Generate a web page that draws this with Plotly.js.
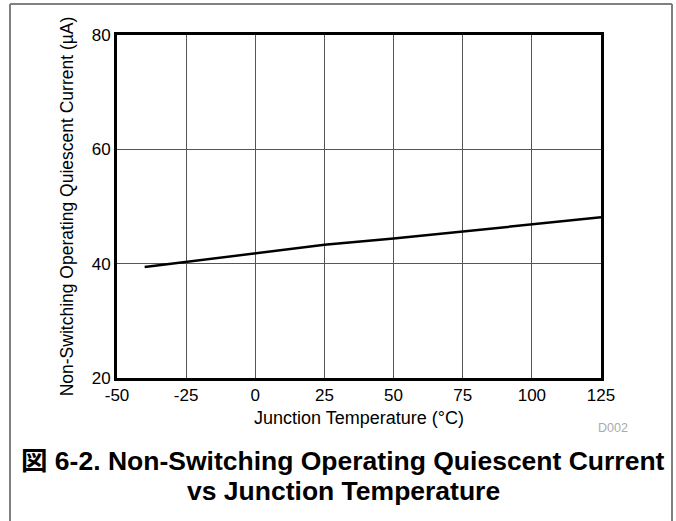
<!DOCTYPE html>
<html>
<head>
<meta charset="utf-8">
<script src="https://cdn.plot.ly/plotly-3.0.1.min.js"></script>
<style>html,body{margin:0;padding:0;background:#fff;}#chart{width:676px;height:521px;}</style>
</head>
<body>
<div id="chart"></div>
<script>
var temperature = [-40, -25, 0, 25, 50, 75, 100, 125];
var quiescentCurrent = [39.4, 40.3, 41.8, 43.3, 44.4, 45.6, 46.8, 48.1];
var xTicks = [-50, -25, 0, 25, 50, 75, 100, 125];
var yTicks = [20, 40, 60, 80];
var xTitle = "Junction Temperature (°C)";
var yTitle = "Non-Switching Operating Quiescent Current (µA)";
var captionLine1 = "図 6-2. Non-Switching Operating Quiescent Current";
var captionLine2 = "vs Junction Temperature";
var docId = "D002";

var L = 117, R = 75, T = 35, B = 143, W = 676, H = 521;
var pw = W - L - R, ph = H - T - B;
function px(x) { return (x - L) / pw; }
function py(y) { return (H - B - y) / ph; }

var font = "Arial, 'Liberation Sans', Helvetica, sans-serif";
var capFont = "Arial, 'Liberation Sans', 'Noto Sans CJK JP', sans-serif";

var trace = {
  x: temperature, y: quiescentCurrent, type: "scatter", mode: "lines",
  line: {color: "#000", width: 2.5}, hoverinfo: "skip"
};

var layout = {
  width: W, height: H,
  margin: {l: L, r: R, t: T, b: B, pad: 0},
  paper_bgcolor: "#fff", plot_bgcolor: "#fff",
  showlegend: false,
  font: {family: font, size: 17, color: "#000"},
  xaxis: {
    range: [-50, 125], tickvals: xTicks, ticktext: xTicks.map(String),
    showgrid: true, gridcolor: "#555", gridwidth: 1,
    zeroline: false, showline: true, linecolor: "#000", linewidth: 3, mirror: true,
    ticks: "", tickfont: {size: 17, family: font},
    title: {text: xTitle, font: {size: 18, family: font}, standoff: 7}
  },
  yaxis: {
    range: [20, 80], tickvals: yTicks, ticktext: yTicks.map(String),
    showgrid: true, gridcolor: "#555", gridwidth: 1,
    zeroline: false, showline: true, linecolor: "#000", linewidth: 3, mirror: true,
    ticks: "", tickfont: {size: 17, family: font},
    title: {text: yTitle, font: {size: 17.5, family: font}, standoff: 14}
  },
  shapes: [
    {type: "line", xref: "paper", yref: "paper", x0: px(10), x1: px(672), y0: py(4), y1: py(4), line: {color: "#808080", width: 2}},
    {type: "line", xref: "paper", yref: "paper", x0: px(10), x1: px(10), y0: py(4), y1: py(521), line: {color: "#808080", width: 2}},
    {type: "line", xref: "paper", yref: "paper", x0: px(672), x1: px(672), y0: py(4), y1: py(521), line: {color: "#808080", width: 2}}
  ],
  annotations: [
    {xref: "paper", yref: "paper", x: px(613), y: py(428), text: docId, showarrow: false,
     font: {size: 12.5, color: "#aaa", family: font}, xanchor: "center", yanchor: "middle"},
    {xref: "paper", yref: "paper", x: px(343), y: py(461), text: "<b>" + captionLine1 + "</b>", showarrow: false,
     font: {size: 26.5, color: "#000", family: capFont}, xanchor: "center", yanchor: "middle"},
    {xref: "paper", yref: "paper", x: px(343), y: py(491), text: "<b>" + captionLine2 + "</b>", showarrow: false,
     font: {size: 26.5, color: "#000", family: capFont}, xanchor: "center", yanchor: "middle"}
  ]
};

Plotly.newPlot("chart", [trace], layout, {displayModeBar: false, staticPlot: true});
</script>
</body>
</html>
